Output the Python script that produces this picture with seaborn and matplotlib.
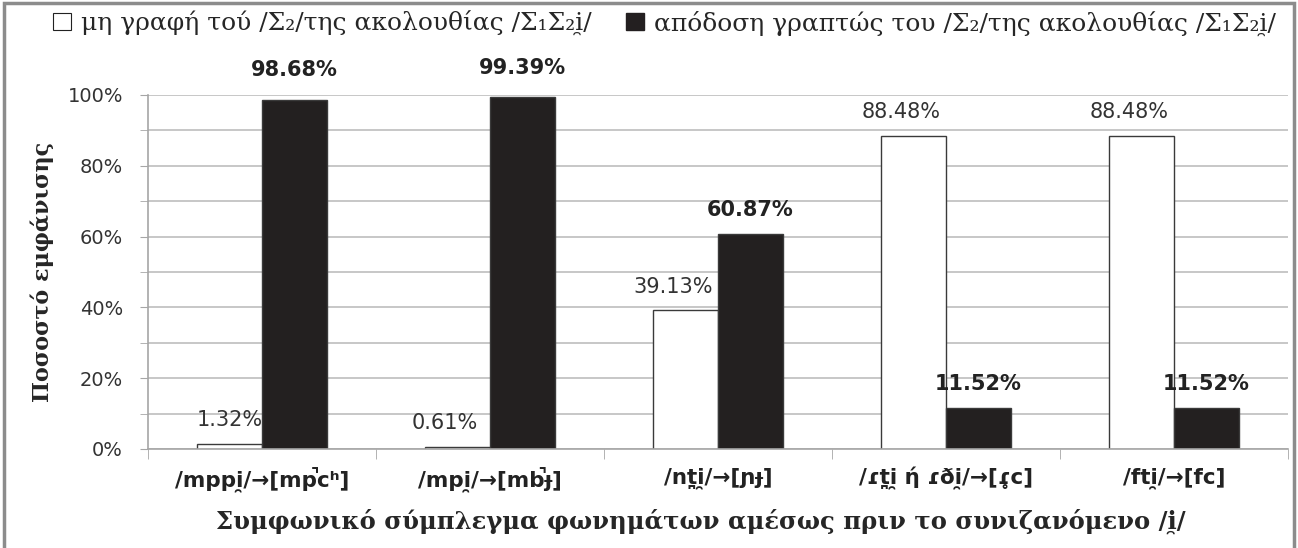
import pandas as pd
import numpy as np
import matplotlib.pyplot as plt
import seaborn as sns
from matplotlib.patches import Patch, Rectangle
from matplotlib.ticker import MultipleLocator, FuncFormatter

sns.set_style('white')
plt.rcParams['font.family'] = ['DejaVu Sans']

# data
categories = ['/mppi̯/→[mp̚cʰ]', '/mpi̯/→[mb̚ɟ]', '/nt̪i̯/→[ɲɟ]',
              '/ɾt̪i̯ ή ɾði̯/→[ɾ̥c]', '/fti̯/→[fc]']
series = ['μη γραφή τού /Σ₂/της ακολουθίας /Σ₁Σ₂i̯/',
          'απόδοση γραπτώς του /Σ₂/της ακολουθίας /Σ₁Σ₂i̯/']
not_written = [1.32, 0.61, 39.13, 88.48, 88.48]
written = [98.68, 99.39, 60.87, 11.52, 11.52]
y_label = 'Ποσοστό εμφάνισης'
x_label = 'Συμφωνικό σύμπλεγμα φωνημάτων αμέσως πριν το συνιζανόμενο /i̯/'

df = pd.DataFrame({
    'cat': categories * 2,
    'series': [series[0]] * 5 + [series[1]] * 5,
    'value': not_written + written,
})

serif = ['DejaVu Serif']
grey = '#a6a6a6'

fig = plt.figure(figsize=(12.98, 5.48), dpi=100)
ax = fig.add_axes([148 / 1298, 1 - 449 / 548, 1140 / 1298, 354 / 548])

sns.barplot(data=df, x='cat', y='value', hue='series', ax=ax,
            palette={series[0]: 'white', series[1]: '#231f20'},
            edgecolor='#3a3a3a', linewidth=1.0, width=0.57, legend=False)

# grid / axes
ax.set_ylim(0, 100)
ax.set_xlim(-0.5, 4.5)
ax.yaxis.set_major_locator(MultipleLocator(20))
ax.yaxis.set_minor_locator(MultipleLocator(10))
ax.yaxis.set_major_formatter(FuncFormatter(lambda v, p: f'{v:.0f}%'))
ax.grid(axis='y', which='both', color='#bdbdbd', linewidth=1.2)
ax.set_axisbelow(True)
for s in ['top', 'right']:
    ax.spines[s].set_visible(False)
for s in ['left', 'bottom']:
    ax.spines[s].set_color(grey)
    ax.spines[s].set_linewidth(1.2)
ax.tick_params(axis='y', which='both', left=True, length=6, color=grey,
               labelsize=14, labelcolor='#333333', pad=12)
ax.set_xticks(np.arange(-0.5, 5, 1), minor=True)
ax.tick_params(axis='x', which='major', length=0, pad=13, labelsize=15.5)
ax.tick_params(axis='x', which='minor', bottom=True, length=7, color=grey)
for t in ax.get_xticklabels():
    t.set_fontweight('bold')
    t.set_color('#222222')

ax.set_ylabel(y_label, family=serif, fontweight='bold', fontsize=16, labelpad=10)
ax.set_xlabel(x_label, family=serif, fontweight='bold', fontsize=17.5)
ax.xaxis.set_label_coords(0.485, -0.17)

# value labels
lbl0 = ax.bar_label(ax.containers[0], labels=[f'{v:.2f}%' for v in not_written],
                    padding=10, fontsize=15, color='#333333')
for t in lbl0[1:]:
    t.xyann = (-9, 10)
lbl1 = ax.bar_label(ax.containers[1], labels=[f'{v:.2f}%' for v in written],
                    padding=10, fontsize=15, fontweight='bold', color='#222222')
for t in lbl1[:2]:
    t.xyann = (0, 14)

# legend
handles = [Patch(facecolor='white', edgecolor='#222222', linewidth=0.8),
           Patch(facecolor='#231f20', edgecolor='#231f20')]
fig.legend(handles, series, loc='center', bbox_to_anchor=(0.512, 0.958),
           ncol=2, frameon=False, prop={'family': serif, 'size': 18},
           handlelength=0.7, handleheight=0.7, handletextpad=0.4,
           columnspacing=1.4)

# frame around the chart
fig.add_artist(Rectangle((0.003, -0.01), 0.994, 1.004, transform=fig.transFigure,
                         fill=False, edgecolor='#8c8c8c', linewidth=2.5))

fig.savefig('out.png', dpi=100)
